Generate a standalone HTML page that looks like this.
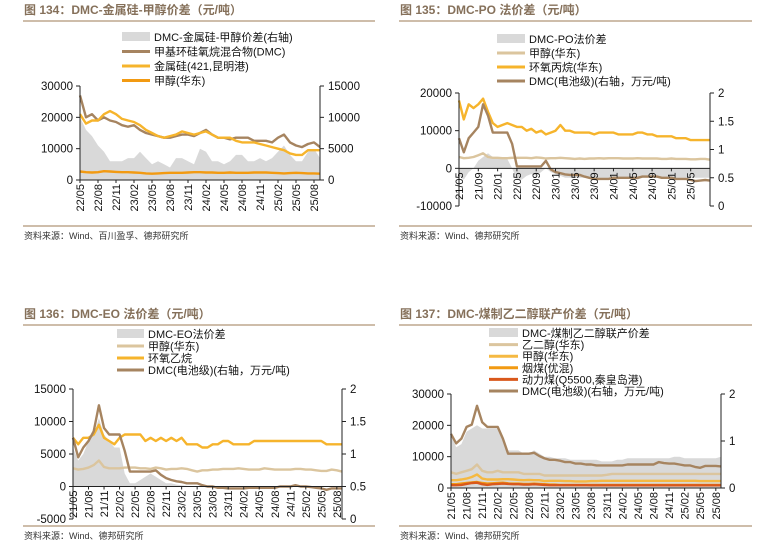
<!DOCTYPE html>
<html><head><meta charset="utf-8"><style>
body{margin:0;background:#fff}
svg{display:block;font-family:"Liberation Sans","Noto Sans CJK SC",sans-serif}
</style></head><body>
<svg id="s" width="762" height="550" viewBox="0 0 762 550"></svg>
<script>
// ---- Panel 1 data (22/05 - 25/09, monthly)
const p1Dmc=[27000,20000,21000,19000,20000,19000,18500,17500,17000,17500,16000,15000,14500,14000,13500,13500,14000,14500,14500,14000,15000,16000,14500,13500,13500,13000,13500,13500,13500,12500,12500,12500,12000,13500,14500,12000,11000,10500,11500,12000,10500];
const p1Si=[21000,18000,19000,19000,21000,22000,21000,19500,19000,18500,17500,16000,15000,14000,13500,14000,14500,15500,15000,14500,15000,15500,14500,13500,13500,13500,12500,12000,12000,12000,11500,11000,10500,10000,9500,8500,8000,8000,9500,9500,9500];
const p1Meoh=[2700,2500,2400,2500,2800,2700,2600,2500,2500,2400,2300,2100,2000,2100,2200,2300,2300,2300,2400,2500,2500,2400,2400,2300,2300,2400,2300,2300,2300,2400,2400,2400,2300,2200,2100,2200,2300,2200,2100,2100,2000];
const p1Spread=[10000,8000,7000,5500,4500,3000,3000,3000,3500,3500,4500,3500,2500,3000,2500,2000,3500,3500,3000,2500,5000,4500,3000,3000,2500,3000,4000,4000,3000,3000,3500,3000,3500,4500,5500,4000,3000,3000,4500,5000,3500];
const p1Ticks=["22/05","22/08","22/11","23/02","23/05","23/08","23/11","24/02","24/05","24/08","24/11","25/02","25/05","25/08"];
// ---- Panel 2 data (21/05 - 25/09)
const p2Po=[18000,13000,17000,16000,17000,18500,15000,12000,11000,11500,12000,11500,11000,11000,10000,10500,9500,10000,9000,9500,10000,11500,10000,10000,9500,9500,9500,9500,9000,9500,9500,9500,9500,9000,9000,9000,9000,9500,9500,9000,9000,8500,8500,8500,8500,8000,8000,8000,7500,7500,7500,7500,7500];
const p2Meoh=[3000,2700,2800,3000,3500,4000,3000,2800,2800,2700,2700,2800,2800,2800,2800,2700,2900,2800,2600,2700,2700,2800,2700,2600,2500,2600,2500,2600,2600,2700,2600,2700,2700,2700,2600,2600,2600,2700,2600,2600,2600,2600,2500,2500,2600,2500,2500,2500,2400,2400,2500,2500,2300];
const p2Dmc=[1.2,0.95,1.2,1.3,1.4,1.8,1.6,1.3,1.3,1.3,1.3,1.1,0.7,0.7,0.7,0.7,0.7,0.7,0.8,0.65,0.6,0.58,0.56,0.55,0.55,0.55,0.52,0.5,0.48,0.48,0.48,0.48,0.5,0.5,0.5,0.5,0.5,0.5,0.52,0.52,0.52,0.52,0.5,0.5,0.5,0.48,0.48,0.48,0.46,0.44,0.45,0.46,0.45];
const p2Spread=[-2000,-3000,-1000,0,2000,3000,4000,3000,3000,3000,2500,0,-3000,-3000,-2000,-1500,-2000,-1000,0,-1000,-1500,-2000,-2500,-2500,-2500,-2500,-2500,-2500,-3000,-3000,-3000,-3000,-3000,-3000,-2500,-2500,-2500,-3000,-2500,-2500,-2500,-2500,-2500,-2500,-2500,-2500,-2500,-2500,-2500,-2500,-2500,-2500,-2500];
const p2Ticks=["21/05","21/09","22/01","22/05","22/09","23/01","23/05","23/09","24/01","24/05","24/09","25/01","25/05"];
// ---- Panel 3 data (21/05 - 25/09)
const p3Eo=[7500,6500,7500,7500,8000,9500,7500,7000,6500,7500,8000,8000,8000,8000,7000,7500,7000,7500,7000,7500,7000,7500,6500,6500,6500,6000,6000,6500,6500,7000,7000,6500,6500,6500,6500,7000,7000,7000,7000,7000,7000,7000,7000,7000,7000,7000,7000,7000,7000,6500,6500,6500,6500];
const p3Meoh=[2800,2600,2700,2900,3300,4000,3000,2800,2800,2800,2900,2900,2900,2800,2800,2700,2900,2800,2600,2700,2700,2800,2700,2500,2300,2500,2500,2600,2600,2700,2700,2700,2800,2700,2600,2600,2600,2800,2700,2600,2600,2600,2600,2700,2700,2600,2600,2500,2400,2400,2600,2500,2300];
const p3Dmc=[1.25,0.95,1.1,1.2,1.35,1.75,1.4,1.3,1.3,1.3,1.05,0.73,0.73,0.73,0.73,0.73,0.75,0.68,0.63,0.6,0.58,0.57,0.55,0.55,0.55,0.52,0.5,0.5,0.48,0.48,0.47,0.47,0.47,0.47,0.48,0.48,0.48,0.48,0.48,0.48,0.5,0.5,0.5,0.52,0.5,0.5,0.49,0.48,0.47,0.45,0.47,0.47,0.47];
const p3Spread=[6000,4000,5000,7000,8000,10500,8000,7000,6000,6000,2000,500,500,1000,1500,2000,1500,1000,500,500,300,200,100,0,0,0,0,0,0,0,0,0,0,0,0,0,0,0,0,0,0,0,0,0,0,0,0,0,0,0,0,0,0];
const p3Ticks=["21/05","21/08","21/11","22/02","22/05","22/08","22/11","23/02","23/05","23/08","23/11","24/02","24/05","24/08","24/11","25/02","25/05","25/08"];
// ---- Panel 4 data (21/05 - 25/09)
const p4Spread=[17000,13000,14000,18000,19000,20000,19000,19000,19000,19000,15000,12000,12000,12000,11000,11000,12000,11000,10000,10000,9500,9500,9500,9000,9000,9000,9000,9000,9000,8500,8500,8500,9000,9000,9500,9500,9500,9500,9500,9500,9500,9500,9500,10000,10000,9500,9500,9500,9500,9500,9500,9500,10000];
const p4Meg=[5000,4500,5000,5500,6000,7500,5500,5000,5000,5500,5000,5000,5000,5000,4500,4500,4500,4500,4000,4000,4000,4000,4000,4000,4000,4000,4000,4000,4000,4000,4200,4500,4500,4500,4500,4500,4500,4500,4500,4500,4500,4500,4500,4500,4500,4500,4500,4500,4500,4500,4500,4500,4500];
const p4Meoh=[2500,2500,2700,3000,3500,4300,3000,2700,2700,2700,2800,2800,2700,2600,2500,2600,2500,2500,2200,2300,2300,2300,2200,2200,2100,2100,2100,2200,2200,2300,2300,2300,2300,2300,2300,2300,2300,2300,2300,2300,2300,2300,2300,2300,2300,2300,2300,2300,2200,2200,2200,2200,2200];
const p4Lump=[1200,1200,1400,1600,1800,1900,1600,1400,1500,1600,1700,1500,1400,1400,1300,1300,1400,1300,1200,1100,1100,1000,1000,1000,1000,1000,1000,1000,1000,1000,1000,1000,1000,1000,1000,1000,1000,1000,1000,1000,1000,1000,1000,1000,1000,1000,1000,1000,1000,1000,1000,1000,1000];
const p4Coal=[900,900,1000,1300,1600,1700,1200,1000,1200,1300,1400,1300,1200,1200,1100,1100,1200,1100,1000,900,900,900,900,900,900,900,900,850,850,850,850,850,850,850,850,850,850,850,850,850,850,850,850,850,850,850,850,850,850,850,850,850,850];
const p4Dmc=[1.15,0.95,1.05,1.3,1.35,1.75,1.4,1.3,1.3,1.3,1.05,0.73,0.73,0.73,0.73,0.73,0.75,0.68,0.63,0.6,0.6,0.58,0.55,0.55,0.52,0.52,0.5,0.5,0.48,0.48,0.48,0.48,0.48,0.48,0.5,0.5,0.5,0.5,0.5,0.5,0.55,0.53,0.52,0.52,0.5,0.48,0.48,0.45,0.43,0.47,0.47,0.47,0.46];
const p4Ticks=["21/05","21/08","21/11","22/02","22/05","22/08","22/11","23/02","23/05","23/08","23/11","24/02","24/05","24/08","24/11","25/02","25/05","25/08"];

const NS="http://www.w3.org/2000/svg";
const S=document.getElementById('s');
function el(tag,attrs,parent,txt){const e=document.createElementNS(NS,tag);for(const k in attrs)e.setAttribute(k,attrs[k]);if(txt!==undefined)e.textContent=txt;(parent||S).appendChild(e);return e;}
const GRAY="#d9d9d9",BROWN="#a68460",YEL="#f6b42c",ORG="#f29a12",TAN="#dbc59e",RED="#d9581c";

function panel(c){
  const g=el('g',{});
  
  
  const t=el('text',{x:c.tx,y:c.ty,'font-size':12,'font-weight':'bold',fill:'#85705a'},g,c.title);
  
  
  el('line',{x1:c.rx1,x2:c.rx2,y1:c.ry,y2:c.ry,stroke:'#bda78e','stroke-width':1.5},g);
  el('line',{x1:c.rx1,x2:c.rx2,y1:c.by,y2:c.by,stroke:'#bda78e','stroke-width':1.5},g);
  const src=el('text',{x:c.tx,y:c.by+13,'font-size':9,fill:'#333'},g,c.source);
  
  
  const n=c.n;
  const X=i=>c.x0+(c.x1-c.x0)*i/(n-1);
  const YL=v=>c.yT+(c.yB-c.yT)*(c.lmax-v)/(c.lmax-c.lmin);
  const YR=v=>c.yT+(c.yB-c.yT)*(c.rmax-v)/(c.rmax-c.rmin);
  // series
  c.series.forEach(s=>{
    const Y=s.right?YR:YL;
    if(s.area){
      const base=s.right?YR(0):YL(0);
      let d='M'+X(0)+','+base;
      s.data.forEach((v,i)=>d+=' L'+X(i).toFixed(1)+','+Y(v).toFixed(1));
      d+=' L'+X(s.data.length-1)+','+base+' Z';
      const p=el('path',{d:d,fill:GRAY},g);
      
      
    }else{
      const pts=s.data.map((v,i)=>X(i).toFixed(1)+','+Y(v).toFixed(1)).join(' ');
      const p=el('polyline',{points:pts,fill:'none',stroke:s.color,'stroke-width':2.4,'stroke-linejoin':'round'},g);
      
      
    }
  });
  // axes
  el('line',{x1:c.x0,x2:c.x0,y1:c.yT,y2:c.yB,stroke:'#222'},g);
  el('line',{x1:c.x1,x2:c.x1,y1:c.yT,y2:c.yB,stroke:'#222'},g);
  el('line',{x1:c.x0,x2:c.x1,y1:YL(0),y2:YL(0),stroke:'#222'},g);
  c.lt.forEach(v=>{const y=YL(v);el('line',{x1:c.x0-4,x2:c.x0,y1:y,y2:y,stroke:'#222'},g);
    const t=el('text',{x:c.x0-7,y:y+4,'font-size':11.5,'text-anchor':'end',fill:'#111'},g,v);
    
    });
  c.rt.forEach(v=>{const y=YR(v);el('line',{x1:c.x1,x2:c.x1+4,y1:y,y2:y,stroke:'#222'},g);
    const t=el('text',{x:c.x1+8,y:y+4,'font-size':11.5,fill:'#111'},g,v);
    
    });
  const y0=YL(0);
  c.ticks.forEach((lb,k)=>{const x=X(k*c.step);
    el('line',{x1:x,x2:x,y1:y0,y2:y0+3,stroke:'#222'},g);
    const t=el('text',{x:x+4,y:y0+4,'font-size':11,'text-anchor':'end',fill:'#111',transform:'rotate(-90 '+(x+4)+' '+(y0+4)+')'},g,lb);
    
    });
  // legend
  c.legend.forEach((L,i)=>{const y=c.ly+i*c.lg;
    const lg=el('g',{},g);
    
    
    if(L.area) el('rect',{x:c.lx,y:y-5,width:c.lw,height:9,fill:GRAY},lg);
    else el('line',{x1:c.lx,x2:c.lx+c.lw,y1:y,y2:y,stroke:L.color,'stroke-width':3},lg);
    el('text',{x:c.lx+c.lw+4,y:y+4,'font-size':11,fill:'#111'},lg,L.label);});
}

panel({id:'panel-134',title:'图 134：DMC-金属硅-甲醇价差（元/吨）',tx:24,ty:14,rx1:23,rx2:375,ry:21,by:226,source:'资料来源：Wind、百川盈孚、德邦研究所',
  n:p1Dmc.length,x0:80,x1:320,yT:86,yB:180,lmin:0,lmax:30000,rmin:0,rmax:15000,lt:[0,10000,20000,30000],rt:[0,5000,10000,15000],
  ticks:p1Ticks,step:3,
  series:[{name:'spread-area',area:1,right:1,data:p1Spread},{name:'methanol-line',color:ORG,data:p1Meoh},{name:'dmc-line',color:BROWN,data:p1Dmc},{name:'silicon-line',color:YEL,data:p1Si}],
  lx:122,lw:28,ly:37,lg:14.5,legend:[{area:1,label:'DMC-金属硅-甲醇价差(右轴)'},{color:BROWN,label:'甲基环硅氧烷混合物(DMC)'},{color:YEL,label:'金属硅(421,昆明港)'},{color:ORG,label:'甲醇(华东)'}]});

panel({id:'panel-135',title:'图 135：DMC-PO 法价差（元/吨）',tx:400,ty:14,rx1:399,rx2:752,ry:21,by:226,source:'资料来源：Wind、德邦研究所',
  n:p2Po.length,x0:459,x1:710,yT:93,yB:206,lmin:-10000,lmax:20000,rmin:0,rmax:2,lt:[-10000,0,10000,20000],rt:[0,0.5,1,1.5,2],
  ticks:p2Ticks,step:4,
  series:[{name:'spread-area',area:1,data:p2Spread},{name:'methanol-line',color:TAN,data:p2Meoh},{name:'po-line',color:YEL,data:p2Po},{name:'dmc-line',color:BROWN,right:1,data:p2Dmc}],
  lx:497,lw:28,ly:39,lg:14,legend:[{area:1,label:'DMC-PO法价差'},{color:TAN,label:'甲醇(华东)'},{color:YEL,label:'环氧丙烷(华东)'},{color:BROWN,label:'DMC(电池级)(右轴，万元/吨)'}]});

panel({id:'panel-136',title:'图 136：DMC-EO 法价差（元/吨）',tx:24,ty:318,rx1:23,rx2:375,ry:325,by:526,source:'资料来源：Wind、德邦研究所',
  n:p3Eo.length,x0:73,x1:342,yT:389,yB:519,lmin:-5000,lmax:15000,rmin:0,rmax:2,lt:[-5000,0,5000,10000,15000],rt:[0,0.5,1,1.5,2],
  ticks:p3Ticks,step:3,
  series:[{name:'spread-area',area:1,data:p3Spread},{name:'methanol-line',color:TAN,data:p3Meoh},{name:'eo-line',color:YEL,data:p3Eo},{name:'dmc-line',color:BROWN,right:1,data:p3Dmc}],
  lx:117,lw:27,ly:334,lg:12,legend:[{area:1,label:'DMC-EO法价差'},{color:TAN,label:'甲醇(华东)'},{color:YEL,label:'环氧乙烷'},{color:BROWN,label:'DMC(电池级)(右轴，万元/吨)'}]});

panel({id:'panel-137',title:'图 137：DMC-煤制乙二醇联产价差（元/吨）',tx:400,ty:318,rx1:399,rx2:752,ry:325,by:526,source:'资料来源：Wind、德邦研究所',
  n:p4Spread.length,x0:451,x1:721,yT:394,yB:488,lmin:0,lmax:30000,rmin:0,rmax:2,lt:[0,10000,20000,30000],rt:[0,1,2],
  ticks:p4Ticks,step:3,
  series:[{name:'spread-area',area:1,data:p4Spread},{name:'meg-line',color:TAN,data:p4Meg},{name:'methanol-line',color:'#f5b942',data:p4Meoh},{name:'lump-coal-line',color:ORG,data:p4Lump},{name:'power-coal-line',color:RED,data:p4Coal},{name:'dmc-line',color:BROWN,right:1,data:p4Dmc}],
  lx:489,lw:29,ly:333,lg:11.6,legend:[{area:1,label:'DMC-煤制乙二醇联产价差'},{color:TAN,label:'乙二醇(华东)'},{color:'#f5b942',label:'甲醇(华东)'},{color:ORG,label:'烟煤(优混)'},{color:RED,label:'动力煤(Q5500,秦皇岛港)'},{color:BROWN,label:'DMC(电池级)(右轴，万元/吨)'}]});
</script>
</body></html>
